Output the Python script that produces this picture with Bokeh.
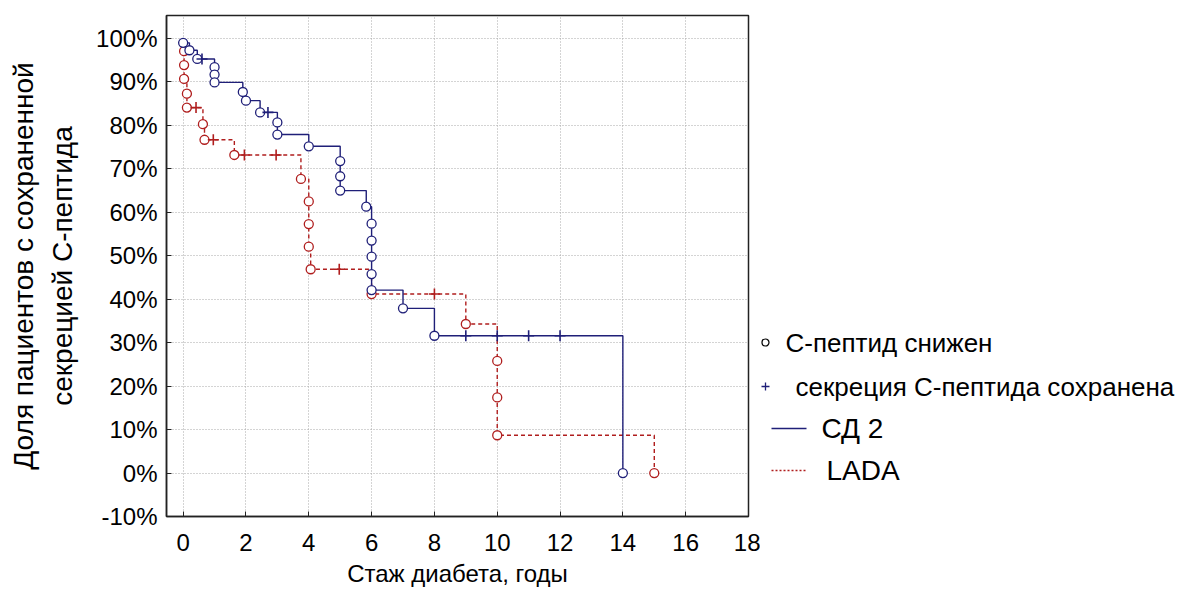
from bokeh.plotting import figure
from bokeh.models import Range1d, FixedTicker, CustomJSTickFormatter, ColumnDataSource
from bokeh.layouts import row
from bokeh.embed import file_html
from bokeh.resources import INLINE
from bokeh.core.properties import value

# ---------------- data ----------------
# СД 2: events (C-peptide decreased) -> time (years), survival (%)
sd2_times = [0, 0.2, 0.45, 1, 1, 1, 1.9, 2, 2.45, 3, 3, 4, 5, 5, 5, 5.83, 6, 6, 6, 6, 6, 7, 8, 14]
sd2_surv = [99.0, 97.3, 95.3, 93.4, 91.7, 89.9, 87.7, 85.7, 83.0, 80.7, 77.9, 75.2,
            71.8, 68.3, 65.0, 61.3, 57.4, 53.5, 49.8, 45.8, 42.1, 37.9, 31.6, 0.0]
# СД 2: censored (secretion preserved)
sd2_cens_t = [0.6, 2.7, 9, 10, 11, 12]
sd2_cens_s = [95.3, 83.0, 31.6, 31.6, 31.6, 31.6]

# LADA: events
lada_times = [0.03, 0.03, 0.03, 0.12, 0.12, 0.63, 0.68, 1.63, 3.75, 4, 4, 4, 4.06, 6, 9, 10, 10, 10, 15]
lada_surv = [97.1, 93.9, 90.7, 87.3, 84.1, 80.3, 76.7, 73.2, 67.7, 62.5, 57.3, 52.1,
             46.9, 41.2, 34.3, 25.8, 17.4, 8.7, 0.0]
# LADA: censored
lada_cens_t = [0.41, 0.96, 1.95, 2.96, 4.97, 8]
lada_cens_s = [84.1, 76.7, 73.2, 73.2, 46.9, 41.2]

x_ticks = [0, 2, 4, 6, 8, 10, 12, 14, 16, 18]
y_ticks = [-10, 0, 10, 20, 30, 40, 50, 60, 70, 80, 90, 100]

legend_labels = ["С-пептид снижен", "секреция С-пептида сохранена", "СД 2", "LADA"]
x_title = "Стаж диабета, годы"
y_title = "Доля пациентов с сохраненной\nсекрецией С-пептида"

BLUE = "#1f1f78"
RED = "#b01e1e"
FONT = "Liberation Sans"
H = 594
TOP = 15
BOTTOM = 78
MAIN_W = 760


def step_path(ts, ss):
    xs, ys = [ts[0]], [ss[0]]
    for t, s in zip(ts[1:], ss[1:]):
        xs.append(t); ys.append(ys[-1])
        xs.append(t); ys.append(s)
    return xs, ys


p = figure(width=MAIN_W, height=H, output_backend="svg", toolbar_location=None,
           x_range=Range1d(-0.53, 18), y_range=Range1d(-10, 105.3),
           min_border_left=166, min_border_right=12, min_border_top=TOP, min_border_bottom=BOTTOM)
p.background_fill_color = "white"
p.border_fill_color = "white"
p.outline_line_color = "#222222"
p.outline_line_width = 1.5

# grid
for g in (p.xgrid, p.ygrid):
    g.grid_line_color = "#a8a8a8"
    g.grid_line_dash = "1 2"
    g.grid_line_width = 1
p.xgrid.ticker = FixedTicker(ticks=x_ticks)
p.ygrid.ticker = FixedTicker(ticks=y_ticks)

# axes
p.xaxis.ticker = FixedTicker(ticks=x_ticks)
p.yaxis.ticker = FixedTicker(ticks=y_ticks)
p.yaxis.formatter = CustomJSTickFormatter(code="return tick.toFixed(0) + '%';")
for ax in (p.xaxis[0], p.yaxis[0]):
    ax.axis_line_color = "#222222"
    ax.axis_line_width = 1.5
    ax.major_tick_in = 5
    ax.major_tick_out = 0
    ax.major_tick_line_color = "#222222"
    ax.minor_tick_line_color = None
    ax.major_label_text_font = FONT
    ax.major_label_text_font_size = "24px"
    ax.major_label_text_color = "black"
    ax.axis_label_text_font = FONT
    ax.axis_label_text_font_style = "normal"
    ax.axis_label_text_color = "black"
p.xaxis.axis_label = x_title
p.yaxis.axis_label = y_title
p.xaxis.axis_label_text_font_size = "24px"
p.yaxis.axis_label_text_font_size = "28px"
p.xaxis.major_label_standoff = 17
p.xaxis.axis_label_standoff = 6
p.yaxis.major_label_standoff = 9
p.yaxis.axis_label_standoff = 15
p.yaxis.axis_label_text_line_height = 1.25

# step lines
bx, by = step_path(sd2_times, sd2_surv)
rx, ry = step_path(lada_times, lada_surv)
p.line(rx, ry, line_color=RED, line_width=1.4, line_dash="4 3")
p.line(bx, by, line_color=BLUE, line_width=1.4)

# markers
p.scatter(lada_times, lada_surv, marker="circle", size=9, line_color=RED, fill_color="white", line_width=1.3)
p.scatter(lada_cens_t, lada_cens_s, marker="cross", size=11, line_color=RED, line_width=1.6)
p.scatter(sd2_times, sd2_surv, marker="circle", size=9, line_color=BLUE, fill_color="white", line_width=1.3)
p.scatter(sd2_cens_t, sd2_cens_s, marker="cross", size=11, line_color=BLUE, line_width=1.6)

# ---------------- legend panel (coordinates = page pixels) ----------------
LG_W = 425
lg = figure(width=LG_W, height=H, output_backend="svg", toolbar_location=None,
            x_range=Range1d(MAIN_W, MAIN_W + LG_W), y_range=Range1d(H - BOTTOM, TOP),
            min_border_left=0, min_border_right=0, min_border_top=TOP, min_border_bottom=BOTTOM)
lg.axis.visible = False
lg.grid.visible = False
lg.outline_line_color = None
lg.background_fill_color = "white"
lg.border_fill_color = "white"

row_y = [342, 386, 428, 470]
lg.scatter([765], [row_y[0]], marker="circle", size=7, line_color="black", fill_color="white", line_width=1.2)
lg.scatter([765], [row_y[1]], marker="cross", size=8, line_color=BLUE, line_width=1.3)
lg.line([771, 806], [row_y[2], row_y[2]], line_color=BLUE, line_width=1.3)
lg.line([771, 806], [row_y[3], row_y[3]], line_color=RED, line_width=1.3, line_dash="2 2")
src = ColumnDataSource(dict(x=[785, 795], y=row_y[:2], t=legend_labels[:2]))
lg.text(x="x", y="y", text="t", source=src, text_font=value(FONT), text_font_size="26px",
        text_baseline="middle", text_align="left", text_color="black")
src2 = ColumnDataSource(dict(x=[821, 826], y=row_y[2:], t=legend_labels[2:]))
lg.text(x="x", y="y", text="t", source=src2, text_font=value(FONT), text_font_size="28px",
        text_baseline="middle", text_align="left", text_color="black")

layout = row(p, lg)
open("out.html", "w").write(file_html(layout, INLINE))
